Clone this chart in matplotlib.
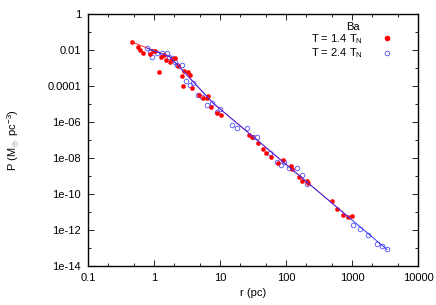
import matplotlib
matplotlib.use("Agg")
import matplotlib.pyplot as plt
from matplotlib.ticker import FixedLocator, FixedFormatter, NullFormatter

plt.rcParams['font.family'] = ['Liberation Sans', 'DejaVu Sans']
plt.rcParams['mathtext.fontset'] = 'custom'
plt.rcParams['mathtext.rm'] = 'Liberation Sans'
plt.rcParams['mathtext.it'] = 'Liberation Sans'

# T = 1.4 T_N (red filled)
r_14 = [0.46, 0.58, 0.61, 0.68, 0.87, 0.95, 1.04, 1.19, 1.29, 1.42, 1.52, 1.75, 1.89,
        2.08, 2.33, 2.63, 2.85, 3.31, 3.51, 2.78, 3.77, 4.85, 5.58, 6.28, 6.65, 7.23,
        9.1, 10.4, 27.5, 30.2, 38.0, 45.3, 49.8, 59.3, 76.4, 89.0, 118, 122, 159, 173,
        206, 218, 492, 586, 738, 861, 989]
rho_14 = [0.028, 0.014, 0.010, 0.0068, 0.0058, 0.0091, 0.0091, 0.0006, 0.0042, 0.0053,
          0.0028, 0.0021, 0.0030, 0.0035, 0.0013, 0.00036, 0.00066, 0.00062, 0.00039,
          0.0001, 7.3e-5, 3.0e-5, 2.1e-5, 2.1e-5, 2.8e-5, 7.1e-6, 3.3e-6, 2.5e-6,
          1.9e-7, 1.4e-7, 7.1e-8, 3.2e-8, 2.0e-8, 1.1e-8, 5.1e-9, 7.8e-9, 3.6e-9,
          2.4e-9, 9.2e-10, 5.6e-10, 5.3e-10, 3.9e-10, 4.2e-11, 1.5e-11, 6.8e-12,
          5.1e-12, 6.0e-12]

# T = 2.4 T_N (blue open)
r_24 = [0.79, 0.87, 0.92, 1.10, 1.31, 1.56, 1.71, 1.87, 2.08, 2.25, 2.63, 3.06, 3.51,
        3.94, 4.69, 5.28, 6.28, 7.48, 8.9, 10.0, 15.0, 17.9, 25.4, 31.3, 36.0, 57.3,
        73.8, 83.2, 93.3, 111, 148, 173, 206, 1026, 1321, 1729, 2417, 2818, 3357]
rho_24 = [0.0124, 0.0081, 0.0042, 0.0066, 0.0066, 0.0066, 0.0039, 0.0036, 0.0022,
          0.0015, 0.0015, 0.00020, 0.000114, 0.00014, 3.2e-5, 2.6e-5, 8.8e-6, 1.1e-5,
          3.7e-6, 5.1e-6, 6.8e-7, 4.5e-7, 4.5e-7, 1.5e-7, 1.4e-7, 1.8e-8, 6.2e-9,
          4.1e-9, 6.2e-9, 2.7e-9, 2.7e-9, 1.1e-9, 3.4e-10, 1.9e-12, 1.1e-12, 5.3e-13,
          1.7e-13, 1.3e-13, 8.5e-14]

# fit curves
fit_r_14 = [0.46, 1.75, 7.83, 966]
fit_rho_14 = [0.028, 0.0041, 1.14e-5, 4.1e-12]
fit_r_24 = [0.78, 1.75, 7.83, 3390]
fit_rho_24 = [0.013, 0.0041, 1.14e-5, 8.3e-14]

xticks = [0.1, 1, 10, 100, 1000, 10000]
xticklabels = ['0.1', '1', '10', '100', '1000', '10000']
yticks = [1, 1e-2, 1e-4, 1e-6, 1e-8, 1e-10, 1e-12, 1e-14]
yticklabels = ['1', '0.01', '0.0001', '1e-06', '1e-08', '1e-10', '1e-12', '1e-14']
yminor = [1e-1, 1e-3, 1e-5, 1e-7, 1e-9, 1e-11, 1e-13]
xminor = [0.2, 0.5, 2, 5, 20, 50, 200, 500, 2000, 5000]

fig = plt.figure(figsize=(4.36, 3.05), dpi=100)
ax = fig.add_axes([88/436, 1-266/305, 330/436, 252/305])
ax.set_xscale('log')
ax.set_yscale('log')
ax.set_xlim(0.1, 10000)
ax.set_ylim(1e-14, 1)

ax.plot(r_24, rho_24, linestyle='none', marker='o', markersize=3.3,
        markerfacecolor='none', markeredgecolor='#5050ff', markeredgewidth=0.6, zorder=3)
ax.plot(r_14, rho_14, linestyle='none', marker='o', markersize=3.0,
        markerfacecolor='#ff0000', markeredgecolor='#ff0000', markeredgewidth=0.3, zorder=4)
ax.plot(fit_r_14, fit_rho_14, color='#ff3030', lw=0.7, zorder=5)
ax.plot(fit_r_24, fit_rho_24, color='#3030ff', lw=0.7, zorder=5)

# legend handles
h1, = ax.plot([], [], linestyle='none', marker='o', markersize=3.0,
              markerfacecolor='#ff0000', markeredgecolor='#ff0000')
h2, = ax.plot([], [], linestyle='none', marker='o', markersize=3.3,
              markerfacecolor='none', markeredgecolor='#5050ff', markeredgewidth=0.6)
leg = ax.legend([h1, h2], ['T = 1.4 T$_\\mathregular{N}$', 'T = 2.4 T$_\\mathregular{N}$'],
                title='Ba', markerfirst=False, frameon=False, fontsize=8,
                title_fontsize=8, loc='upper right', bbox_to_anchor=(0.955, 1.0),
                handlelength=1.5, handletextpad=1.4, labelspacing=0.05,
                borderpad=0.2)

ax.xaxis.set_major_locator(FixedLocator(xticks))
ax.xaxis.set_major_formatter(FixedFormatter(xticklabels))
ax.xaxis.set_minor_locator(FixedLocator(xminor))
ax.xaxis.set_minor_formatter(NullFormatter())
ax.yaxis.set_major_locator(FixedLocator(yticks))
ax.yaxis.set_major_formatter(FixedFormatter(yticklabels))
ax.yaxis.set_minor_locator(FixedLocator(yminor))
ax.yaxis.set_minor_formatter(NullFormatter())

ax.tick_params(which='both', direction='in', top=True, right=True, labelsize=8,
               width=0.6, colors='black')
ax.tick_params(which='major', length=4, pad=5)
ax.tick_params(which='minor', length=2)
for s in ax.spines.values():
    s.set_linewidth(1.0)

ax.set_xlabel('r (pc)', fontsize=8, labelpad=4)
ax.set_ylabel('P (M$_\\odot$ pc$^{\\mathregular{-3}}$)', fontsize=8)
ax.yaxis.set_label_coords(-0.2, 0.5)

fig.savefig('out.png', dpi=100)
